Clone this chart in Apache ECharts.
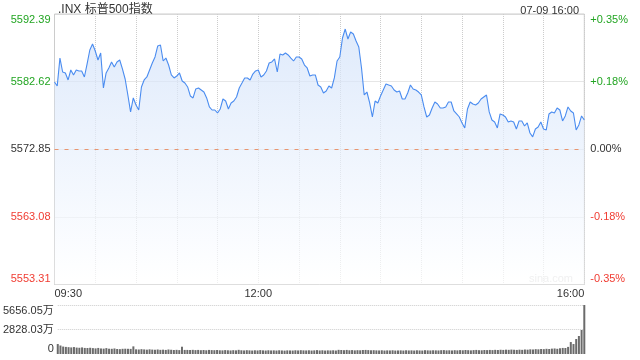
<!DOCTYPE html>
<html><head><meta charset="utf-8">
<script src="https://cdn.jsdelivr.net/npm/echarts@6/dist/echarts.min.js"></script>
<style>html,body{margin:0;padding:0;background:#fff}#c{width:640px;height:360px}</style>
</head><body><div id="c"></div>
<script>
const TITLE = '.INX 标普500指数';
const STAMP = '07-09 16:00';
const WATERMARK = 'sina.com';
const PREV_CLOSE = 5572.85;
const PRICE_MIN = 5553.31, PRICE_MAX = 5592.39, PRICE_STEP = 9.77;
const VOL_MAX = 5656.05;
const volTickLabels = ['0', '2828.03万', '5656.05万'];
const xTickLabels = {0: '09:30', 75: '12:00', 195: '16:00'};

// 2-minute steps 09:30 .. 16:00
const times = [];
for (let m = 9 * 60 + 30; m <= 16 * 60; m += 2) {
  times.push(String(Math.floor(m / 60)).padStart(2, '0') + ':' + String(m % 60).padStart(2, '0'));
}

const prices = [
5582.57,5581.99,5586.03,5584.01,5583.87,5582.86,5584.30,5583.58,5584.30,5584.16,
5584.16,5583.29,5585.17,5587.19,5588.06,5587.04,5585.74,5586.76,5581.70,5583.87,
5584.59,5585.46,5584.73,5585.46,5585.74,5584.45,5583.00,5580.69,5578.24,5580.26,
5579.25,5578.52,5581.85,5582.86,5583.29,5584.30,5585.31,5586.18,5587.77,5587.91,
5585.60,5586.03,5585.02,5583.58,5583.15,5583.43,5583.87,5582.71,5582.42,5581.85,
5580.55,5580.26,5581.56,5581.70,5581.41,5581.12,5580.26,5578.96,5578.52,5578.52,
5578.09,5578.67,5580.11,5579.82,5578.67,5579.54,5579.82,5580.40,5581.70,5582.42,
5583.15,5583.15,5582.86,5583.72,5584.16,5584.30,5583.29,5583.58,5584.16,5585.31,
5585.46,5585.89,5584.01,5586.61,5586.47,5586.76,5586.47,5586.03,5585.60,5586.18,
5586.18,5585.89,5585.02,5584.59,5583.43,5583.58,5583.58,5582.13,5581.85,5580.98,
5581.27,5581.99,5581.70,5583.15,5585.60,5586.18,5588.92,5590.22,5588.78,5589.79,
5589.50,5588.49,5587.62,5584.59,5580.69,5581.12,5579.54,5577.51,5579.82,5579.54,
5580.55,5581.41,5582.28,5582.13,5581.99,5581.41,5581.12,5581.27,5580.11,5580.11,
5580.98,5582.13,5581.56,5581.41,5581.12,5580.69,5578.96,5577.51,5577.80,5578.81,
5579.68,5579.39,5578.81,5578.81,5578.96,5579.68,5579.68,5578.38,5577.95,5577.51,
5576.65,5575.93,5578.67,5579.68,5579.39,5579.25,5579.54,5580.11,5580.40,5580.69,
5578.24,5577.08,5576.79,5575.93,5577.95,5577.80,5577.51,5576.79,5576.94,5576.79,
5575.78,5576.94,5576.94,5576.21,5576.65,5575.20,5574.63,5575.78,5576.07,5576.79,
5575.78,5575.64,5577.95,5578.24,5578.09,5578.81,5578.52,5576.94,5577.66,5578.96,
5578.38,5578.09,5575.64,5576.36,5577.66,5577.08
];

// volume in 万
const volumes = [
1150,980,860,820,790,760,800,740,720,760,
700,690,720,680,650,700,640,620,680,610,
600,640,580,560,600,610,600,590,880,540,
520,560,530,500,540,510,490,520,480,500,
470,520,490,460,480,450,840,470,470,460,
480,450,470,440,460,430,470,450,440,460,
430,420,450,430,410,440,420,480,430,410,
440,420,400,430,410,450,420,400,430,410,
420,400,430,410,390,420,410,400,430,410,
440,420,410,430,400,420,450,410,430,400,
420,410,430,400,480,460,440,470,430,450,
420,440,430,460,470,450,430,440,420,410,
430,400,420,410,430,400,410,420,400,430,
410,420,400,430,410,400,440,420,410,430,
420,410,440,450,420,430,410,440,420,450,
430,460,440,420,450,470,440,430,460,450,
470,450,480,460,490,470,500,480,510,490,
470,500,480,520,500,540,520,560,540,580,
560,600,580,620,640,600,660,700,690,820,
1380,1150,1730,2080,2770,5656.05
];

const FONT = '"Liberation Sans", Arial, "Noto Sans CJK SC", sans-serif';
const GREEN = '#22a522', RED = '#f03c32', DARK = '#333';
function priceColor(v) {
  v = Number(v);
  if (v > PREV_CLOSE + 0.001) return GREEN;
  if (v < PREV_CLOSE - 0.001) return RED;
  return DARK;
}
const grid = {left: 54.5, right: 55.7};
const chart = echarts.init(document.getElementById('c'), null, {renderer: 'canvas'});
chart.setOption({
  animation: false,
  textStyle: {fontFamily: FONT},
  title: [
    {text: TITLE, left: 53, top: -1, textStyle: {fontSize: 12, fontWeight: 'normal', color: DARK, fontFamily: FONT}},
    {text: STAMP, right: 56, top: 0, textStyle: {fontSize: 11, fontWeight: 'normal', color: DARK, fontFamily: FONT}}
  ],
  graphic: [{
    type: 'text', right: 67, top: 273, silent: true,
    style: {text: WATERMARK, fill: '#cfcfcf', font: '11px ' + FONT}
  }],
  grid: [
    {left: grid.left, right: grid.right, top: 14, height: 270.5, show: true, borderColor: '#cccccc', borderWidth: 1, backgroundColor: 'transparent'},
    {left: grid.left, right: grid.right, top: 305, height: 49}
  ],
  xAxis: [
    {
      type: 'category', gridIndex: 0, data: times, boundaryGap: false,
      axisLine: {show: false}, axisTick: {show: false},
      axisLabel: {
        interval: 0, margin: 4, fontSize: 11, color: DARK, fontFamily: FONT,
        formatter: (v, i) => xTickLabels[i] || '',
        alignMinLabel: 'left', alignMaxLabel: 'right'
      },
      splitLine: {show: true, interval: (i) => i % 15 === 0, lineStyle: {type: 'dotted', color: '#cccccc'}}
    },
    {
      type: 'category', gridIndex: 1, data: times, boundaryGap: false,
      axisLine: {show: false}, axisTick: {show: false}, axisLabel: {show: false}, splitLine: {show: false}
    }
  ],
  yAxis: [
    {
      type: 'value', gridIndex: 0, position: 'left', min: PRICE_MIN, max: PRICE_MAX, interval: PRICE_STEP,
      axisLine: {show: false}, axisTick: {show: false},
      axisLabel: {
        margin: 4, fontSize: 11, fontFamily: FONT,
        formatter: (v) => Number(v).toFixed(2),
        color: (v) => priceColor(v),
        verticalAlignMinLabel: 'bottom', verticalAlignMaxLabel: 'top'
      },
      splitLine: {show: true, lineStyle: {type: 'dotted', color: '#cccccc'}}
    },
    {
      type: 'value', gridIndex: 0, position: 'right', min: PRICE_MIN, max: PRICE_MAX, interval: PRICE_STEP,
      axisLine: {show: false}, axisTick: {show: false},
      axisLabel: {
        margin: 6, fontSize: 11, fontFamily: FONT,
        formatter: (v) => {
          const p = (Number(v) - PREV_CLOSE) / PREV_CLOSE * 100;
          if (Math.abs(p) < 0.0005) return '0.00%';
          return (p > 0 ? '+' : '') + p.toFixed(2) + '%';
        },
        color: (v) => priceColor(v),
        verticalAlignMinLabel: 'bottom', verticalAlignMaxLabel: 'top'
      },
      splitLine: {show: false}
    },
    {
      type: 'value', gridIndex: 1, min: 0, max: VOL_MAX, interval: VOL_MAX / 2,
      axisLine: {show: false}, axisTick: {show: false},
      axisLabel: {
        margin: 4, fontSize: 11, color: DARK, fontFamily: FONT,
        formatter: (v, i) => volTickLabels[i] || '',
        verticalAlignMinLabel: 'bottom', verticalAlignMaxLabel: 'top'
      },
      splitLine: {show: true, lineStyle: {type: 'dotted', color: ['transparent', '#cccccc', '#cccccc']}}
    }
  ],
  series: [
    {
      type: 'line', xAxisIndex: 0, yAxisIndex: 0, data: prices,
      showSymbol: false, symbol: 'none', silent: true,
      lineStyle: {color: '#4a8cf0', width: 1.1},
      areaStyle: {
        origin: 'start',
        color: new echarts.graphic.LinearGradient(0, 0, 0, 1, [
          {offset: 0, color: '#d1e1f9'},
          {offset: 1, color: '#ffffff'}
        ])
      },
      markLine: {
        silent: true, symbol: 'none', label: {show: false},
        lineStyle: {color: '#e8956f', type: [4, 6], width: 1, opacity: 1},
        data: [{yAxis: PREV_CLOSE}]
      }
    },
    {
      type: 'bar', xAxisIndex: 1, yAxisIndex: 2, data: volumes,
      barWidth: 2, silent: true,
      itemStyle: {color: '#6b6b6b'}
    }
  ]
});
</script>
</body></html>
